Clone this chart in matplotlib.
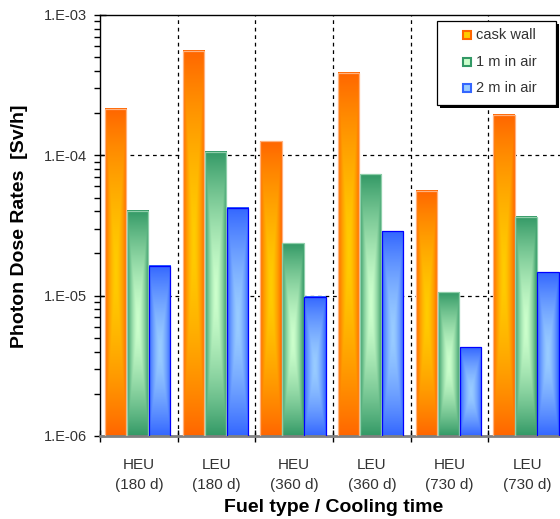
import numpy as np
import matplotlib
matplotlib.use("Agg")
import matplotlib.pyplot as plt
from matplotlib.colors import to_rgb
from matplotlib.patches import Rectangle
from matplotlib.ticker import LogLocator, NullFormatter, FixedLocator

# ---- data ----
fuel = ["HEU", "LEU", "HEU", "LEU", "HEU", "LEU"]
cooling = ["(180 d)", "(180 d)", "(360 d)", "(360 d)", "(730 d)", "(730 d)"]
series_names = ["cask wall", "1 m in air", "2 m in air"]
cask_wall = [2.14e-4, 5.57e-4, 1.26e-4, 3.87e-4, 5.57e-5, 1.94e-4]
air_1m = [4.03e-5, 1.06e-4, 2.36e-5, 7.36e-5, 1.06e-5, 3.66e-5]
air_2m = [1.63e-5, 4.23e-5, 9.8e-6, 2.87e-5, 4.3e-6, 1.47e-5]
ytick_vals = [1e-6, 1e-5, 1e-4, 1e-3]
ytick_labels = ["1.E-06", "1.E-05", "1.E-04", "1.E-03"]

series = [cask_wall, air_1m, air_2m]
edge_cols = ["#FF6600", "#339966", "#3366FF"]
center_cols = ["#FFCC00", "#CCFFCC", "#99CCFF"]
outline_cols = ["#FFB27F", "#8FCFAA", "#0000FF"]

plt.rcParams["font.family"] = ["Liberation Sans", "DejaVu Sans"]

W, H = 560, 519
fig = plt.figure(figsize=(W / 100, H / 100), dpi=100)
ax_l, ax_r, ax_t, ax_b = 100, 566, 15, 436
ax = fig.add_axes([ax_l / W, (H - ax_b) / H, (ax_r - ax_l) / W, (ax_b - ax_t) / H])
ax.set_yscale("log", nonpositive="clip")
ymin, ymax = ytick_vals[0], ytick_vals[-1]
ax.set_ylim(ymin, ymax)
n = len(fuel)
ax.set_xlim(-0.5, n - 0.5)

x = np.arange(n)
bw = 0.278
offsets = [-bw * 1.02, 0.0, bw * 1.02]
offsets = [o - 0.015 for o in offsets]


def gradient(c_edge, c_center, nx=80, ny=300):
    dx = np.linspace(-1, 1, nx)
    dy = np.linspace(-1, 1, ny)
    DX, DY = np.meshgrid(np.abs(dx), np.abs(dy))
    t = np.maximum(DX, DY)
    s = 1 - t ** 1.6
    e = np.array(to_rgb(c_edge))
    c = np.array(to_rgb(c_center))
    return e[None, None, :] + (c - e)[None, None, :] * s[:, :, None]


to_axes = ax.transScale + ax.transLimits
for si, vals in enumerate(series):
    bars = ax.bar(x + offsets[si], vals, width=bw,
                  facecolor="none", edgecolor=outline_cols[si],
                  linewidth=0.9, zorder=3)
    img = gradient(edge_cols[si], center_cols[si])
    for b in bars:
        x0, x1 = b.get_x(), b.get_x() + b.get_width()
        y0, y1 = ymin, b.get_y() + b.get_height()
        (ax0, ay0), (ax1, ay1) = to_axes.transform([(x0, y0), (x1, y1)])
        ax.imshow(img, extent=(ax0, ax1, ay0, ay1), transform=ax.transAxes,
                  aspect="auto", interpolation="bilinear", zorder=2,
                  origin="upper")
ax.set_xlim(-0.5, n - 0.5)
ax.set_ylim(ymin, ymax)

# grid
for yv in ytick_vals[1:-1]:
    ax.axhline(yv, color="black", linestyle=(0, (3, 3)), linewidth=0.9, zorder=1)
for xb in np.arange(0.5, n - 0.5, 1.0):
    ax.axvline(xb, color="black", linestyle=(0, (3, 3)), linewidth=0.9, zorder=1)

# ticks
ax.yaxis.set_major_locator(FixedLocator(ytick_vals))
ax.set_yticklabels(ytick_labels)
ax.yaxis.set_minor_locator(LogLocator(base=10, subs=np.arange(2, 10)))
ax.yaxis.set_minor_formatter(NullFormatter())
ax.tick_params(axis="y", which="major", direction="inout", length=9, width=1,
               labelsize=10.5, labelcolor="#333333", pad=5)
ax.tick_params(axis="y", which="minor", direction="out", length=4, width=1)

ax.set_xticks(np.arange(-0.5, n, 1.0))
ax.set_xticklabels([])
ax.set_xticks(x, minor=True)
ax.set_xticklabels([f"{f}\n{c}" for f, c in zip(fuel, cooling)], minor=True)
ax.tick_params(axis="x", which="major", direction="inout", length=8, width=1,
               color="black")
ax.tick_params(axis="x", which="minor", length=0, pad=16, labelsize=11,
               labelcolor="#333333")
for lbl in ax.get_xticklabels(minor=True):
    lbl.set_linespacing(1.5)

for sp in ["top", "left"]:
    ax.spines[sp].set_color("black")
    ax.spines[sp].set_linewidth(1)
ax.spines["bottom"].set_color("#808080")
ax.spines["bottom"].set_linewidth(2)
ax.spines["right"].set_visible(False)

ax.set_ylabel("Photon Dose Rates  [Sv/h]", fontsize=14, fontweight="bold")
ax.yaxis.set_label_coords((28 - ax_l) / (ax_r - ax_l), (436 - 226) / (ax_b - ax_t))
ax.set_xlabel("Fuel type / Cooling time", fontsize=14, fontweight="bold")
ax.xaxis.set_label_coords((334 - ax_l) / (ax_r - ax_l), -(508 - ax_b) / (ax_b - ax_t))
ax.xaxis.label.set_va("center")

# legend (manual, in figure pixel coordinates)
def px(xp, yp):
    return xp / W, 1 - yp / H

lx0, ly0, lx1, ly1 = 437, 21, 556, 105
fig.patches.append(Rectangle(px(lx0 + 3, ly1 + 3), (lx1 - lx0) / W, (ly1 - ly0) / H,
                             transform=fig.transFigure, facecolor="black",
                             edgecolor="none", zorder=10))
fig.patches.append(Rectangle(px(lx0, ly1), (lx1 - lx0) / W, (ly1 - ly0) / H,
                             transform=fig.transFigure, facecolor="white",
                             edgecolor="black", linewidth=0.9, zorder=11))
rows_y = [35, 62, 88]
for si, name in enumerate(series_names):
    yy = rows_y[si]
    fig.patches.append(Rectangle(px(463, yy + 4), 8 / W, 8 / H,
                                 transform=fig.transFigure,
                                 facecolor=center_cols[si],
                                 edgecolor=edge_cols[si], linewidth=1.5,
                                 zorder=12))
    fig.text(*px(476, yy), name, fontsize=10.5, color="#333333",
             ha="left", va="center", zorder=12)

fig.savefig("out.png", dpi=100)
